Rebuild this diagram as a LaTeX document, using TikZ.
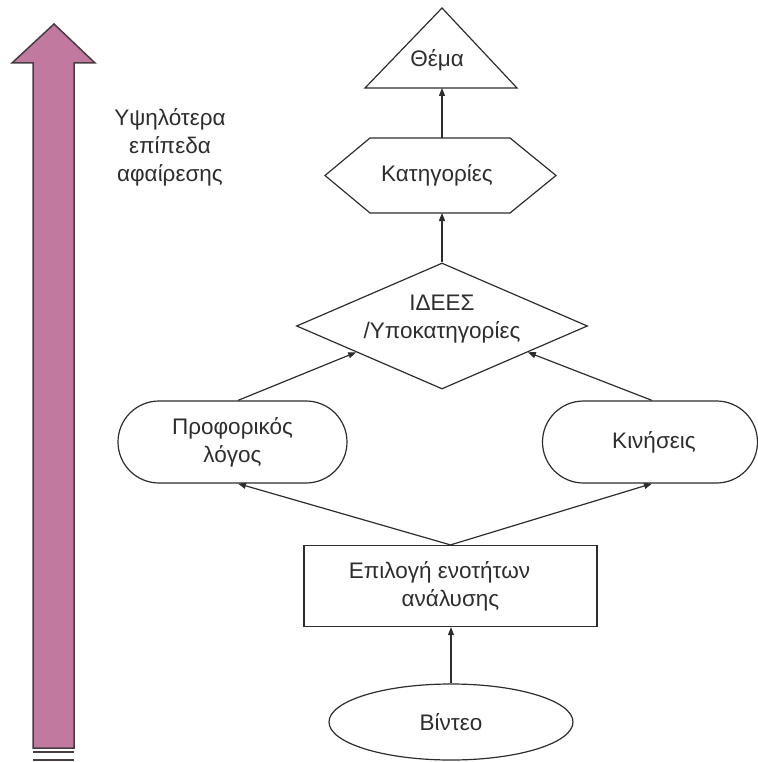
\documentclass[tikz,border=0pt]{standalone}
\usepackage{fontspec}
\setmainfont{Liberation Sans}
\usetikzlibrary{arrows.meta,shapes.geometric,shapes.misc,calc}
\definecolor{ink}{RGB}{45,45,45}
\definecolor{mauve}{RGB}{194,121,160}
\definecolor{rim}{RGB}{70,60,66}
\begin{document}
\begin{tikzpicture}[x=1pt,y=-1pt,
  every node/.style={font=\fontsize{22.5}{28}\selectfont, text=ink},
  box/.style={draw=ink, line width=1.2pt, inner sep=0pt, align=center},
  arr/.style={draw=ink, line width=1.2pt, -{Triangle[length=8pt,width=6pt]}},
  edge/.style={draw=ink, line width=1.2pt, line join=miter}]
\useasboundingbox (0,0) rectangle (757,762);

% tall arrow on the left
\draw[fill=mauve, draw=rim, line width=1.5pt, line join=miter]
  (54,24) -- (95,63) -- (74,63) -- (74,748) -- (33,748) -- (33,63) -- (12,63) -- cycle;
\draw[rim, line width=2.2pt] (33,752) -- (74,752);
\draw[rim, line width=2.6pt] (33,760) -- (74,760);
\node[align=center] (lvl) at (170,147) {Υψηλότερα\\επίπεδα\\αφαίρεσης};

% top: theme triangle
\node (theme) at (437,60) {Θέμα};
\coordinate (themeB) at (442,88);
\draw[edge] (442,8) -- (517,88) -- (365,88) -- cycle;

% categories hexagon
\node (cat) at (437,175) {Κατηγορίες};
\coordinate (catT) at (442,138);
\coordinate (catB) at (442,213);
\draw[edge] (325,175.5) -- (370,138) -- (510,138) -- (556,175.5) -- (510,213) -- (370,213) -- cycle;

% ideas / subcategories diamond
\node[box, diamond, minimum width=291pt, minimum height=126pt, aspect=2.3] (idea) at (442,326) {};
\node[align=center] (ideatxt) at (442,319) {ΙΔΕΕΣ\\/Υποκατηγορίες};

% two sources
\node[box, rounded rectangle, minimum width=229pt, minimum height=82pt] (oral) at (232.5,442) {Προφορικός\\λόγος};
\node[box, rounded rectangle, minimum width=215pt, minimum height=82pt] (moves) at (650,442) {\hspace*{8pt}Κινήσεις};

% selection box and video
\node[box, rectangle, minimum width=293pt, minimum height=81pt] (sel) at (450.5,586) {Επιλογή ενοτήτων\hspace*{22pt}\\ανάλυσης};
\node[box, ellipse, minimum width=244pt, minimum height=76pt] (vid) at (451,722) {Βίντεο};

% connectors
\draw[arr] (vid.north) -- (vid.north |- sel.south);
\draw[arr] (sel.north) -- ($(oral.south)+(5.5,0)$);
\draw[arr] (sel.north) -- ($(moves.south)+(2,0)$);
\draw[arr] ($(oral.north)+(5.5,0)$) -- (idea.197);
\draw[arr] ($(moves.north)+(2,0)$) -- (idea.343);
\draw[arr] (idea.north) -- (catB);
\draw[arr] (catT) -- (themeB);
\end{tikzpicture}
\end{document}
